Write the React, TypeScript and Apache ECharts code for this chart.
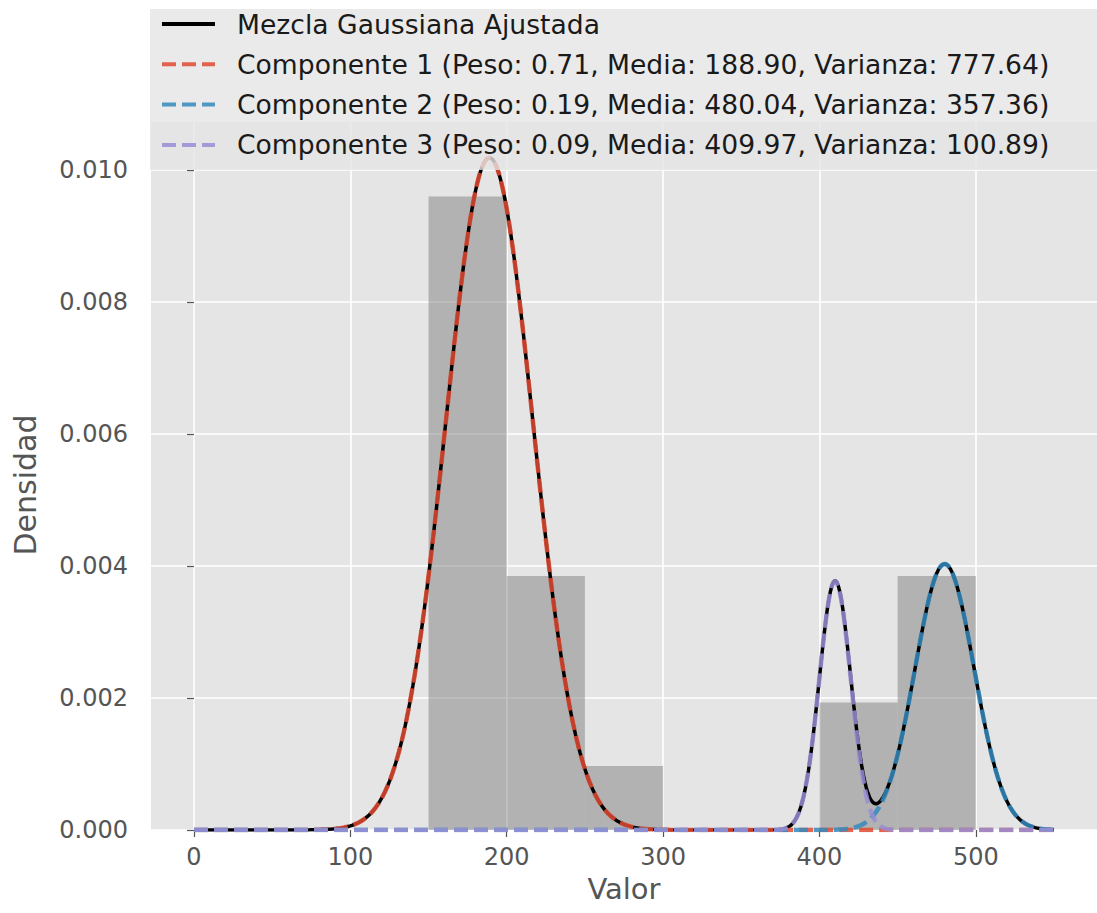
import React, { useEffect, useRef } from "react";
import * as echarts from "echarts";

// Histogram bins (start, end) and densities
const binStarts = [150, 200, 250, 400, 450];
const binEnds = [200, 250, 300, 450, 500];
const binDensities = [0.0096, 0.00385, 0.00097, 0.00193, 0.00385];

// Gaussian mixture: legend labels as printed
const mixtureName = "Mezcla Gaussiana Ajustada";
const compNames = [
  "Componente 1 (Peso: 0.71, Media: 188.90, Varianza: 777.64)",
  "Componente 2 (Peso: 0.19, Media: 480.04, Varianza: 357.36)",
  "Componente 3 (Peso: 0.09, Media: 409.97, Varianza: 100.89)",
];
// Component parameters (weights read from the drawn peak heights, means/variances as printed)
const curveWeights = [0.712, 0.191, 0.095];
const means = [188.9, 480.04, 409.97];
const variances = [777.64, 357.36, 100.89];
const compColors = ["#E24A33", "#348ABD", "#988ED5"];

// Curve evaluation range
const curveStart = 0;
const curveEnd = 550;
const curveStep = 1;

const xTicks = [0, 100, 200, 300, 400, 500];
const yTicks = [0, 0.002, 0.004, 0.006, 0.008, 0.01];

const FONT = "DejaVu Sans";

function pdf(x: number, w: number, m: number, v: number) {
  return (w / Math.sqrt(2 * Math.PI * v)) * Math.exp(-((x - m) * (x - m)) / (2 * v));
}

export default function App() {
  const ref = useRef<HTMLDivElement>(null);

  useEffect(() => {
    if (!ref.current) return;
    const chart = echarts.init(ref.current, undefined, { renderer: "svg" });

    const xs: number[] = [];
    for (let x = curveStart; x <= curveEnd; x += curveStep) xs.push(x);
    const compData = curveWeights.map((w, i) => xs.map((x) => [x, pdf(x, w, means[i], variances[i])]));
    const mixData = xs.map((x, k) => [x, compData.reduce((s, c) => s + c[k][1], 0)]);

    const histData = binStarts.map((s, i) => [s, binEnds[i], binDensities[i]]);

    const option: any = {
      animation: false,
      backgroundColor: "#ffffff",
      textStyle: { fontFamily: FONT },
      grid: {
        left: 151,
        right: -5,
        top: 122,
        bottom: 83,
        show: true,
        backgroundColor: "#E5E5E5",
        borderWidth: 0,
      },
      xAxis: {
        type: "value",
        min: -27.5,
        max: 577.5,
        splitNumber: 5,
        axisLine: { show: false },
        axisTick: { show: true, length: 7, lineStyle: { color: "#555555", width: 1.2 }, customValues: xTicks },
        axisLabel: { customValues: xTicks, color: "#555555", fontSize: 24, fontFamily: FONT, margin: 15 },
        splitLine: { show: true, lineStyle: { color: "#ffffff", width: 1.6 } },
        name: "Valor",
        nameLocation: "middle",
        nameGap: 44,
        nameTextStyle: { fontSize: 29, color: "#555555", fontFamily: FONT },
      },
      yAxis: {
        type: "value",
        min: 0,
        max: 0.010727,
        splitNumber: 5,
        axisLine: { show: false },
        axisTick: { show: true, length: 7, lineStyle: { color: "#555555", width: 1.2 }, customValues: yTicks },
        axisLabel: {
          customValues: yTicks,
          color: "#555555",
          fontSize: 24,
          fontFamily: FONT,
          margin: 23,
          formatter: (v: number) => v.toFixed(3),
        },
        splitLine: { show: true, lineStyle: { color: "#ffffff", width: 1.6 } },
        name: "Densidad",
        nameLocation: "middle",
        nameGap: 111,
        nameTextStyle: { fontSize: 30, color: "#555555", fontFamily: FONT, padding: [0, 18, 0, 0] },
      },
      legend: {
        data: [mixtureName, ...compNames],
        orient: "vertical",
        left: 160,
        top: 9,
        padding: 0,
        itemWidth: 53,
        itemHeight: 30,
        itemGap: 10.3,
        z: 6,
        itemStyle: { opacity: 0 },
        lineStyle: { width: 4 },
        textStyle: { fontSize: 26.6, color: "#1a1a1a", fontFamily: FONT, lineHeight: 30, padding: [0, 0, 0, 17] },
      },
      graphic: [
        {
          type: "rect",
          z: 5,
          shape: { x: 150, y: 9, width: 960, height: 161 },
          style: { fill: "rgba(229,229,229,0.8)" },
        },
      ],
      series: [
        {
          type: "custom",
          name: "hist",
          data: histData,
          encode: { x: [0, 1], y: 2 },
          z: 1,
          renderItem: (params: any, api: any) => {
            const p0 = api.coord([api.value(0), api.value(2)]);
            const p1 = api.coord([api.value(1), 0]);
            return {
              type: "rect",
              shape: { x: p0[0], y: p0[1], width: p1[0] - p0[0], height: p1[1] - p0[1] },
              style: { fill: "rgba(128,128,128,0.5)" },
            };
          },
        },
        {
          type: "line",
          name: mixtureName,
          data: mixData,
          symbol: "none",
          z: 2,
          lineStyle: { color: "#000000", width: 3.5 },
          itemStyle: { color: "#000000" },
        },
        ...compNames.map((n, i) => ({
          type: "line",
          name: n,
          data: compData[i],
          symbol: "none",
          z: 3,
          lineStyle: { color: compColors[i], width: 4.5, type: [14, 6], opacity: 0.85 },
          itemStyle: { color: compColors[i] },
        })),
      ],
    };

    chart.setOption(option);
    return () => chart.dispose();
  }, []);

  return (
    <div
      ref={ref}
      style={{ position: "absolute", left: 0, top: 0, width: 1097, height: 913 }}
    />
  );
}
